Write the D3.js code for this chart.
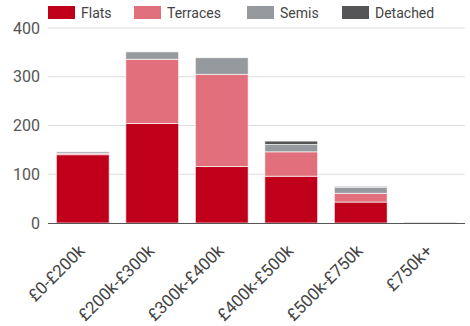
<!DOCTYPE html>
<html><head><meta charset="utf-8">
<script src="https://cdn.jsdelivr.net/npm/d3@7"></script>
<style>body{margin:0;background:#fff;font-family:Roboto,sans-serif}</style>
</head><body><svg id="c" width="470" height="326"></svg>
<script>
const categories = ["£0-£200k","£200k-£300k","£300k-£400k","£400k-£500k","£500k-£750k","£750k+"];
const seriesNames = ["Flats","Terraces","Semis","Detached"];
const flats =    [140, 204, 116, 96, 43, 0];
const terraces = [3, 132, 189, 50, 18, 0];
const semis =    [3, 15, 34, 15, 12, 1];
const detached = [0, 0, 0, 7, 2, 1];
const yTicks = [0,100,200,300,400];
const colors = ["#c0001a","#e2707c","#96999e","#555558"];

const svg = d3.select("#c");
const m = {l:48, r:5, t:28, b:103};
const W = 470, H = 326;
const x = d3.scaleBand().domain(categories).range([m.l, W-m.r]).paddingInner(0.24).paddingOuter(0.12);
const y = d3.scaleLinear().domain([0,400]).range([H-m.b, m.t]);

const rows = categories.map((c,i)=>({cat:c, Flats:flats[i], Terraces:terraces[i], Semis:semis[i], Detached:detached[i]}));
const stack = d3.stack().keys(seriesNames)(rows);

// grid
svg.append("g").selectAll("line").data(yTicks.filter(d=>d>0)).join("line")
  .attr("x1", m.l).attr("x2", W-m.r).attr("y1", d=>y(d)).attr("y2", d=>y(d))
  .attr("stroke","#dcdcdc").attr("stroke-width",1);

// y labels
svg.append("g").selectAll("text").data(yTicks).join("text")
  .attr("x", 40).attr("y", d=>y(d)).attr("dy","0.35em").attr("text-anchor","end")
  .attr("font-size",16).attr("fill","#555").text(d=>d);

// bars
svg.append("g").selectAll("g").data(stack).join("g").attr("fill",(d,i)=>colors[i])
  .selectAll("rect").data(d=>d.filter(s=>s[1]>s[0])).join("rect")
  .attr("x", d=>x(d.data.cat)).attr("width", x.bandwidth())
  .attr("y", d=>y(d[1])).attr("height", d=>Math.max(0,y(d[0])-y(d[1])))
  .attr("stroke","#fff").attr("stroke-width",0.8).attr("stroke-opacity",0.8);

// axis line
svg.append("line").attr("x1",m.l).attr("x2",W-m.r).attr("y1",y(0)+0.5).attr("y2",y(0)+0.5)
  .attr("stroke","#555").attr("stroke-width",1);

// x labels
svg.append("g").selectAll("text").data(categories).join("text")
  .attr("transform", d=>`translate(${x(d)+x.bandwidth()/2+3},${y(0)+29}) rotate(-45)`)
  .attr("text-anchor","end").attr("font-size",17).attr("fill","#444").text(d=>d);

// legend
const lx = [48,134,247,342];
const lg = svg.append("g").selectAll("g").data(seriesNames).join("g")
  .attr("transform",(d,i)=>`translate(${lx[i]},6)`);
lg.append("rect").attr("width",27).attr("height",13).attr("fill",(d,i)=>colors[i]);
lg.append("text").attr("x",33).attr("y",7).attr("dy","0.35em").attr("font-size",14).attr("fill","#444").text(d=>d);
</script></body></html>
